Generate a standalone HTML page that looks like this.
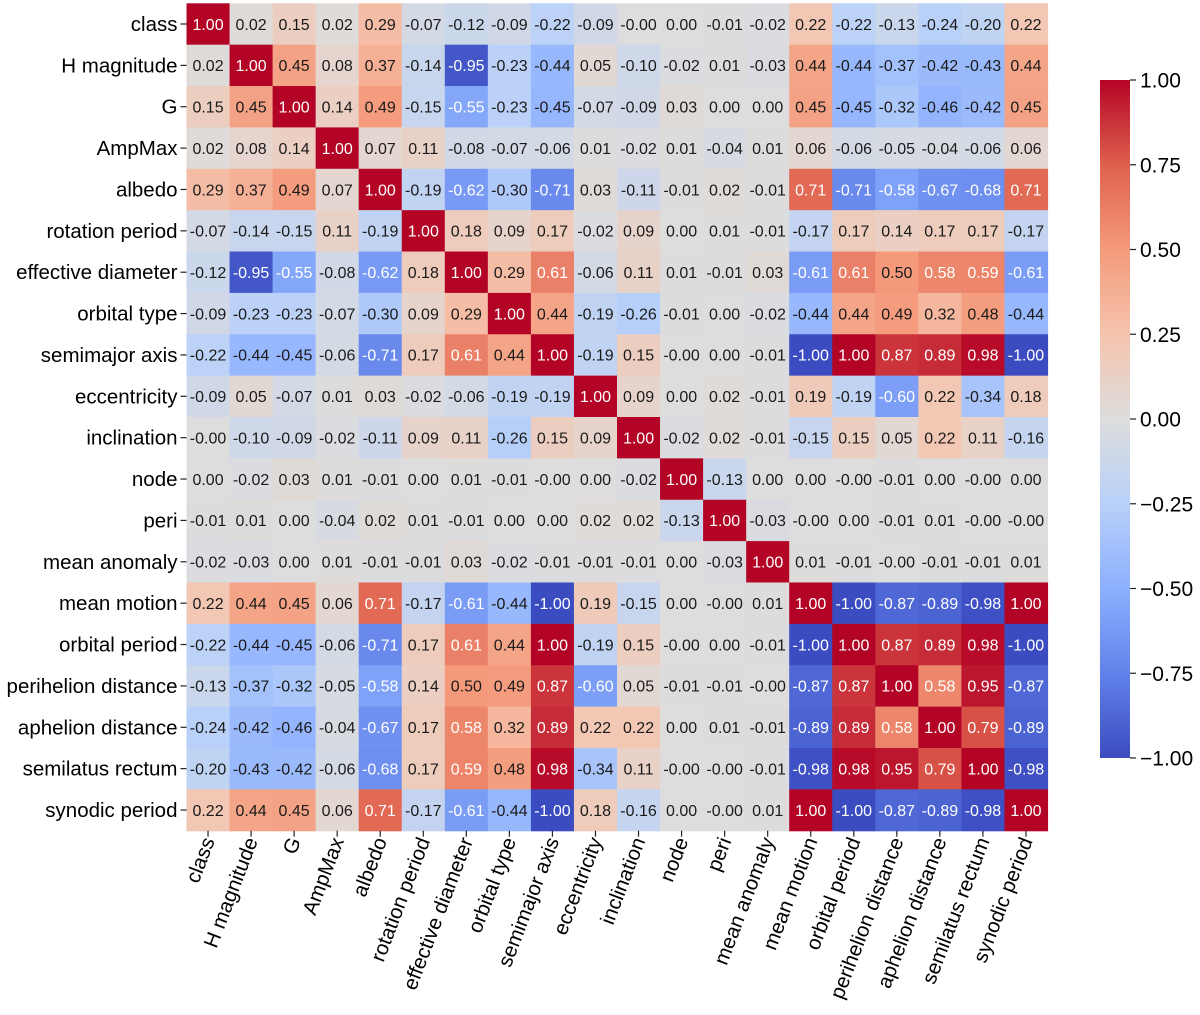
<!DOCTYPE html>
<html><head><meta charset="utf-8">
<style>
html,body{margin:0;padding:0;background:#fff;}
svg{display:block;font-family:"Liberation Sans",Arial,sans-serif;}
</style></head>
<body>
<svg id="chart" width="1200" height="1015" viewBox="0 0 1200 1015" xmlns="http://www.w3.org/2000/svg">
<g id="cells"></g>
<g id="ylabels"></g>
<g id="xlabels"></g>
<g id="cbar"></g>
</svg>
<script>
const labels = ["class","H magnitude","G","AmpMax","albedo","rotation period","effective diameter","orbital type","semimajor axis","eccentricity","inclination","node","peri","mean anomaly","mean motion","orbital period","perihelion distance","aphelion distance","semilatus rectum","synodic period"];
const Z = -0.001;
const matrix = [
[1.00,0.02,0.15,0.02,0.29,-0.07,-0.12,-0.09,-0.22,-0.09,Z,0.00,-0.01,-0.02,0.22,-0.22,-0.13,-0.24,-0.20,0.22],
[0.02,1.00,0.45,0.08,0.37,-0.14,-0.95,-0.23,-0.44,0.05,-0.10,-0.02,0.01,-0.03,0.44,-0.44,-0.37,-0.42,-0.43,0.44],
[0.15,0.45,1.00,0.14,0.49,-0.15,-0.55,-0.23,-0.45,-0.07,-0.09,0.03,0.00,0.00,0.45,-0.45,-0.32,-0.46,-0.42,0.45],
[0.02,0.08,0.14,1.00,0.07,0.11,-0.08,-0.07,-0.06,0.01,-0.02,0.01,-0.04,0.01,0.06,-0.06,-0.05,-0.04,-0.06,0.06],
[0.29,0.37,0.49,0.07,1.00,-0.19,-0.62,-0.30,-0.71,0.03,-0.11,-0.01,0.02,-0.01,0.71,-0.71,-0.58,-0.67,-0.68,0.71],
[-0.07,-0.14,-0.15,0.11,-0.19,1.00,0.18,0.09,0.17,-0.02,0.09,0.00,0.01,-0.01,-0.17,0.17,0.14,0.17,0.17,-0.17],
[-0.12,-0.95,-0.55,-0.08,-0.62,0.18,1.00,0.29,0.61,-0.06,0.11,0.01,-0.01,0.03,-0.61,0.61,0.50,0.58,0.59,-0.61],
[-0.09,-0.23,-0.23,-0.07,-0.30,0.09,0.29,1.00,0.44,-0.19,-0.26,-0.01,0.00,-0.02,-0.44,0.44,0.49,0.32,0.48,-0.44],
[-0.22,-0.44,-0.45,-0.06,-0.71,0.17,0.61,0.44,1.00,-0.19,0.15,Z,0.00,-0.01,-1.00,1.00,0.87,0.89,0.98,-1.00],
[-0.09,0.05,-0.07,0.01,0.03,-0.02,-0.06,-0.19,-0.19,1.00,0.09,0.00,0.02,-0.01,0.19,-0.19,-0.60,0.22,-0.34,0.18],
[Z,-0.10,-0.09,-0.02,-0.11,0.09,0.11,-0.26,0.15,0.09,1.00,-0.02,0.02,-0.01,-0.15,0.15,0.05,0.22,0.11,-0.16],
[0.00,-0.02,0.03,0.01,-0.01,0.00,0.01,-0.01,Z,0.00,-0.02,1.00,-0.13,0.00,0.00,Z,-0.01,0.00,Z,0.00],
[-0.01,0.01,0.00,-0.04,0.02,0.01,-0.01,0.00,0.00,0.02,0.02,-0.13,1.00,-0.03,Z,0.00,-0.01,0.01,Z,Z],
[-0.02,-0.03,0.00,0.01,-0.01,-0.01,0.03,-0.02,-0.01,-0.01,-0.01,0.00,-0.03,1.00,0.01,-0.01,Z,-0.01,-0.01,0.01],
[0.22,0.44,0.45,0.06,0.71,-0.17,-0.61,-0.44,-1.00,0.19,-0.15,0.00,Z,0.01,1.00,-1.00,-0.87,-0.89,-0.98,1.00],
[-0.22,-0.44,-0.45,-0.06,-0.71,0.17,0.61,0.44,1.00,-0.19,0.15,Z,0.00,-0.01,-1.00,1.00,0.87,0.89,0.98,-1.00],
[-0.13,-0.37,-0.32,-0.05,-0.58,0.14,0.50,0.49,0.87,-0.60,0.05,-0.01,-0.01,Z,-0.87,0.87,1.00,0.58,0.95,-0.87],
[-0.24,-0.42,-0.46,-0.04,-0.67,0.17,0.58,0.32,0.89,0.22,0.22,0.00,0.01,-0.01,-0.89,0.89,0.58,1.00,0.79,-0.89],
[-0.20,-0.43,-0.42,-0.06,-0.68,0.17,0.59,0.48,0.98,-0.34,0.11,Z,Z,-0.01,-0.98,0.98,0.95,0.79,1.00,-0.98],
[0.22,0.44,0.45,0.06,0.71,-0.17,-0.61,-0.44,-1.00,0.18,-0.16,0.00,Z,0.01,1.00,-1.00,-0.87,-0.89,-0.98,1.00]
];
const cbarTicks = [1.00,0.75,0.50,0.25,0.00,-0.25,-0.50,-0.75,-1.00];

const NS="http://www.w3.org/2000/svg";
const L=186.5,T=3.3,CW=43.05,CH=41.37;
const xPos=i=>L+i*CW, yPos=i=>T+i*CH;
const stops=[[59,76,192],[98,130,234],[141,176,254],[184,208,249],[221,221,221],[245,196,173],[244,154,123],[222,96,77],[180,4,38]];
function cmap(v){let t=(v+1)/2;t=Math.max(0,Math.min(1,t))*8;let i=Math.min(7,Math.floor(t));let f=t-i;
const a=stops[i],b=stops[i+1];return `rgb(${a.map((c,k)=>Math.round(c+(b[k]-c)*f)).join(",")})`;}
function mk(tag,attrs,parent){const e=document.createElementNS(NS,tag);for(const k in attrs)e.setAttribute(k,attrs[k]);parent.appendChild(e);return e;}
function fmt(v){const s=Math.abs(v).toFixed(2);return (v<0?"\u2212":"")+s;}
const cells=document.getElementById("cells");
matrix.forEach((row,r)=>row.forEach((v,c)=>{
  const rect=mk("rect",{x:xPos(c),y:yPos(r),width:CW+0.6,height:CH+0.6,fill:cmap(v)},cells);
  
  
  const t=mk("text",{x:xPos(c)+CW/2,y:yPos(r)+CH/2+5.8,"text-anchor":"middle","font-size":"16",fill:Math.abs(v)>0.52?"#fff":"#1a1a1a"},cells);
  t.textContent=(v<0?"-":"")+Math.abs(v).toFixed(2);
  
  
}));
const yl=document.getElementById("ylabels"), xl=document.getElementById("xlabels");
labels.forEach((lab,i)=>{
  const cy=yPos(i)+CH/2;
  mk("line",{x1:L-6,x2:L,y1:cy,y2:cy,stroke:"#222","stroke-width":1.2},yl);
  const t=mk("text",{x:L-9,y:cy+7,"text-anchor":"end","font-size":"20.5",fill:"#000"},yl);
  t.textContent=lab;
  
  
  const cx=xPos(i)+CW/2, by=T+20*CH;
  mk("line",{x1:cx,x2:cx,y1:by,y2:by+6,stroke:"#222","stroke-width":1.2},xl);
  const u=mk("text",{x:0,y:0,"text-anchor":"end","font-size":"20.5",fill:"#000",transform:`translate(${cx+7},${by+10}) rotate(-69)`},xl);
  u.textContent=lab;
  
  
});
const cb=document.getElementById("cbar");
const CX=1100,CWd=30,CT=80,CB=758;
const cbY=v=>CT+(1-v)/2*(CB-CT);
const defs=mk("defs",{},cb);
const g=mk("linearGradient",{id:"cg",x1:0,y1:1,x2:0,y2:0},defs);
stops.forEach((s,i)=>mk("stop",{offset:i/8,"stop-color":`rgb(${s.join(",")})`},g));
const bar=mk("rect",{x:CX,y:CT,width:CWd,height:CB-CT,fill:"url(#cg)"},cb);


cbarTicks.forEach(v=>{
  const y=cbY(v);
  mk("line",{x1:CX+CWd,x2:CX+CWd+6,y1:y,y2:y,stroke:"#222","stroke-width":1.2},cb);
  const t=mk("text",{x:CX+CWd+10,y:y+7.5,"font-size":"21",fill:"#000"},cb);
  t.textContent=fmt(v);
  
  
});
</script>
</body></html>
